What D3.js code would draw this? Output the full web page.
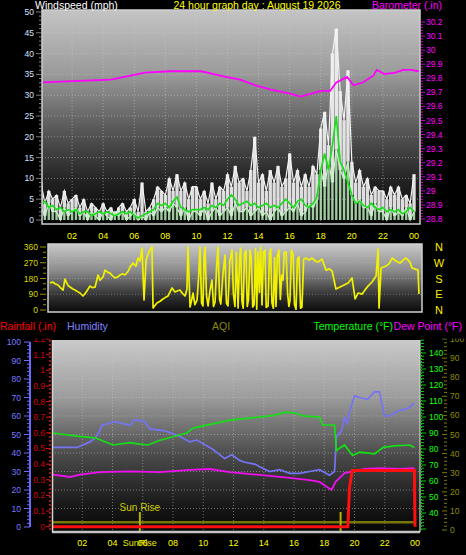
<!DOCTYPE html>
<html><head><meta charset="utf-8">
<script src="https://cdn.jsdelivr.net/npm/d3@7/dist/d3.min.js"></script>
<style>
html,body{margin:0;padding:0;background:#000;overflow:hidden}
svg{display:block}
text{font-family:"Liberation Sans",Arial,sans-serif}
</style></head><body>
<svg id="chart" width="466" height="555"></svg>
<script>
// ================= DATA =================
const chartTitle = "24 hour graph day : August 19 2026";
const hourLabels = ["02","04","06","08","10","12","14","16","18","20","22","00"];
const hourLabelPos = [2,4,6,8,10,12,14,16,18,20,22,24];

const windTicks = [0,5,10,15,20,25,30,35,40,45,50];
const baroTicks = [28.8,28.9,29.0,29.1,29.2,29.3,29.4,29.5,29.6,29.7,29.8,29.9,30.0,30.1,30.2];
const baroTickLabels = ["28.8","28.9","29","29.1","29.2","29.3","29.4","29.5","29.6","29.7","29.8","29.9","30","30.1","30.2"];

// wind samples every 15 minutes (00:00 .. 24:00)
const windGust = [
 9,4,7,5, 6,3,7,4, 5,6,3,5, 2,4,3,2, 4,2,3,1, 3,4,2,3, 5,2,9,2, 3,5,8,7,
 6,10,7,11, 7,9,5,8, 8,5,7,4, 9,5,8,7, 11,8,13,9, 10,7,12,20, 9,11,7,12, 9,13,8,10,
 16,9,12,8, 11,8,13,11, 22,26,18,40, 46,31,24,36, 14,9,12,8, 10,6,8,7, 7,5,8,6, 8,5,6,4, 11];
const windSpeed = [
 3,1,4,2, 2,0,3,1, 2,3,1,2, 0,2,1,0, 2,1,0,2, 1,2,0,1, 2,0,1,0, 2,1,3,2,
 3,2,4,3, 1,3,0,2, 2,1,3,0, 2,3,1,2, 3,1,4,2, 2,3,1,2, 3,1,2,0, 2,3,1,2,
 3,2,4,1, 2,4,3,5, 12,8,14,9, 17,12,10,14, 6,4,5,3, 3,1,4,2, 2,0,3,1, 2,1,3,0, 2];
const windAvg = [
 4,4.5,3,3.5, 2.5,3,2,2.5, 2,2.5,1.5,2, 2,1,1.5,2, 1.5,2,1.5,1, 1.5,2,1.5,2, 1,0.5,1,1.5, 2,2.5,4,3.5,
 4,3,4.5,5.5, 3,2.5,2,2.5, 2.5,2.5,3,2.5, 3.5,3,4,3.5, 5,6,5,3.5, 4,4.5,3.5,4, 3,3.5,4,3, 3.5,3,4,5,
 4,3,4.5,5, 3.5,3,4,5.5, 12,16,12,18, 25,14,12,9, 6,4,4.5,3.5, 3,4,3,2.5, 3,2,2.5,2, 2.5,1.5,2,3, 2];
const windHours = d3.range(windGust.length).map(i => i / 4);

const baroHours = [0,4.5,6.7,8.3,10.3,11.9,12.8,13.8,14.8,16.1,16.7,17.7,18.0,18.6,19.0,19.7,20.1,20.7,21.4,21.6,22.1,22.8,23.3,23.8,24.3];
const baroValues = [29.77,29.79,29.84,29.85,29.85,29.81,29.79,29.75,29.72,29.69,29.67,29.70,29.71,29.71,29.77,29.81,29.75,29.77,29.82,29.86,29.83,29.84,29.86,29.86,29.85];

const dirTicks = [0,90,180,270,360];
const compassLabels = ["N","W","S","E","N"];
const compassDeg = [360,270,180,90,0];
const dirHours = [0.13,0.30,0.45,0.64,0.80,0.97,1.09,1.29,1.42,1.60,1.74,1.90,2.06,2.25,2.40,2.51,2.70,2.85,3.03,3.22,3.35,3.54,3.67,3.85,3.99,4.15,4.31,4.50,4.63,4.80,4.95,5.15,5.28,5.47,5.66,5.79,5.92,6.05,6.18,6.31,6.44,6.56,6.69,6.76,7.01,7.21,7.40,7.55,7.72,7.98,8.17,8.35,8.49,8.65,8.82,
 8.94,9.01,9.14,9.25,9.33,9.45,9.59,9.70,9.78,9.88,9.97,10.04,10.10,10.20,10.30,10.42,10.55,10.65,10.75,10.85,10.94,11.04,11.12,11.25,11.39,11.48,11.58,11.70,11.84,11.93,12.03,12.12,12.23,12.33,12.40,12.48,12.56,12.64,12.74,12.82,12.90,13.00,13.08,13.17,13.26,13.35,13.43,13.51,13.60,13.68,13.77,13.86,13.96,14.04,14.16,14.25,14.33,14.41,14.50,14.58,14.67,14.76,14.86,14.95,15.04,15.12,15.20,15.32,15.42,15.50,15.57,15.66,15.77,15.86,15.96,16.05,16.15,16.25,16.34,16.45,16.60,
 16.80,16.99,17.20,17.37,17.63,17.89,18.10,18.28,18.53,18.79,19.05,19.31,19.56,19.76,19.95,20.21,20.40,20.59,20.85,21.11,21.24,21.30,21.43,21.75,21.95,22.14,22.39,22.65,22.85,23.04,23.29,23.42,23.60,23.81,23.87];
const dirDeg = [155,160,150,143,128,114,177,140,131,120,114,105,97,80,95,110,137,128,131,200,170,189,228,215,211,195,183,190,200,207,200,220,245,268,250,297,280,354,57,285,320,343,360,11,40,50,63,72,80,126,103,110,114,95,80,
 120,360,17,60,97,30,57,200,360,40,23,300,360,80,23,110,171,20,46,250,360,60,34,200,314,40,23,280,343,90,20,330,11,300,354,50,10,320,340,20,60,343,300,17,30,350,5,331,100,360,29,330,343,15,23,320,350,40,10,300,20,310,343,60,200,171,330,331,90,20,57,343,320,30,5,290,303,10,17,290,297,
 285,297,280,274,291,228,235,223,120,131,143,154,183,63,97,91,115,137,160,194,349,11,240,251,265,297,280,268,285,297,274,240,235,228,91];

const humTicks = [0,10,20,30,40,50,60,70,80,90,100];
const rainTicks = [0,0.1,0.2,0.3,0.4,0.5,0.6,0.7,0.8,0.9,1,1.1,1.2];
const tempTicks = [40,50,60,70,80,90,100,110,120,130,140];
const aqiTicks = [0,10,20,30,40,50,60,70,80,90,100];

const humHours = [0.07,1.65,2.51,2.84,3.17,3.30,4.16,4.62,5.15,5.48,6.14,6.47,7.46,8.45,9.11,9.57,10.63,11.42,11.88,12.41,12.74,13.40,13.86,14.39,15.05,15.71,16.37,17.03,17.69,18.35,18.68,18.81,19.14,19.34,19.54,19.67,20.00,20.33,20.86,21.32,21.65,21.98,22.31,22.97,23.50,23.96];
const humValues = [43,43,46,48,52,55,57,56,55,58,57,53,52,49,46,47,42,37,39,36,35,34,32,30,31,29,29,30,31,28,30,49,52,59,56,62,71,70,69,73,73,60,60,63,64,67];

const tempHours = [0.07,1.65,2.84,4.03,5.15,5.81,6.34,7.13,8.12,8.91,9.31,9.77,10.76,11.75,12.74,13.73,14.72,15.38,16.04,16.70,17.69,17.89,18.68,18.81,19.01,19.34,19.87,20.33,21.32,21.91,22.64,23.63,23.96];
const tempValues = [90,88,87,82.5,84,83,82.5,85.5,88,90,93,94,96,98,99,100,101,103,102.5,100.5,100,95,95,79,80.5,82.5,76,78,77,81,82,82.5,81];

const dewHours = [0.07,1.19,1.85,3.17,5.15,7.13,9.11,10.43,11.75,13.73,15.71,17.03,17.69,18.48,18.75,19.34,20.66,21.65,22.97,23.96];
const dewValues = [64,62.5,64,65.5,66,65.5,67,67.5,65.5,63.8,62,60.6,59.4,54.4,59.5,65,67.5,68,67.5,68];

const rainHours = [0,19.56,19.67,19.85,23.96,24.0];
const rainValues = [0,0,0.25,0.36,0.36,0];

const aqiHours = [0,24];
const aqiValues = [4,4];

const sunriseHour = 5.81;
const sunsetHour = 19.08;

// ================= DRAW =================
const svg = d3.select("#chart");
const defs = svg.append("defs");
function grad(id, stops){
  const g = defs.append("linearGradient").attr("id",id).attr("x1",0).attr("y1",0).attr("x2",0).attr("y2",1);
  stops.forEach(([o,c]) => g.append("stop").attr("offset",o).attr("stop-color",c));
}
grad("gTop", [[0,"#c4c4c4"],[0.3,"#9a9a9a"],[0.55,"#5a5a5a"],[0.8,"#222"],[1,"#050505"]]);
grad("gDir", [[0,"#c8c8c8"],[0.4,"#8a8a8a"],[0.75,"#333"],[1,"#0a0a0a"]]);
grad("gBot", [[0,"#cacaca"],[0.3,"#9c9c9c"],[0.6,"#4a4a4a"],[0.85,"#1a1a1a"],[1,"#050505"]]);

function clip(id,x,y,w,h){ defs.append("clipPath").attr("id",id).append("rect").attr("x",x).attr("y",y).attr("width",w).attr("height",h); }

// ---------- TOP PANEL ----------
const T = {x0:42, x1:420, y0:10, y1:224};
const xTop = d3.scaleLinear([0,24],[41,414]);
const yWind = d3.scaleLinear([0,50],[220,12]);
const yBaro = d3.scaleLinear([28.8,30.2],[219,22]);
clip("cTop", T.x0, T.y0, T.x1-T.x0, T.y1-T.y0);

svg.append("rect").attr("x",T.x0).attr("y",T.y0).attr("width",T.x1-T.x0).attr("height",T.y1-T.y0).attr("fill","url(#gTop)");
const gTop = svg.append("g").attr("clip-path","url(#cTop)");
// grid
gTop.selectAll(".hg").data(windTicks.slice(1,-1)).join("line")
  .attr("x1",T.x0).attr("x2",T.x1).attr("y1",d=>yWind(d)).attr("y2",d=>yWind(d))
  .attr("stroke","#c8c8c8").attr("stroke-opacity",0.55).attr("stroke-dasharray","1,2");
gTop.selectAll(".vg").data(hourLabelPos.slice(0,-1)).join("line")
  .attr("x1",d=>xTop(d)).attr("x2",d=>xTop(d)).attr("y1",T.y0).attr("y2",T.y1)
  .attr("stroke","#c8c8c8").attr("stroke-opacity",0.55).attr("stroke-dasharray","1,2");

const windIdx = d3.range(windHours.length);
// gust bars (white)
gTop.selectAll(".gb").data(windIdx).join("line")
  .attr("x1",i=>xTop(windHours[i])).attr("x2",i=>xTop(windHours[i]))
  .attr("y1",i=>yWind(windSpeed[i])).attr("y2",i=>yWind(windGust[i]))
  .attr("stroke","#f0f0f0").attr("stroke-width",3.4).attr("stroke-opacity",0.92);
gTop.append("path").datum(windIdx)
  .attr("d", d3.line().x(i=>xTop(windHours[i])).y(i=>yWind(windGust[i])))
  .attr("fill","none").attr("stroke","#f4f4f4").attr("stroke-width",1.2);
// wind speed (pale green)
gTop.selectAll(".sb").data(windIdx).join("line")
  .attr("x1",i=>xTop(windHours[i])).attr("x2",i=>xTop(windHours[i]))
  .attr("y1",yWind(0)).attr("y2",i=>yWind(windSpeed[i]))
  .attr("stroke","#b8ecb8").attr("stroke-width",2.4).attr("stroke-opacity",0.85);
gTop.append("path").datum(windIdx)
  .attr("d", d3.line().x(i=>xTop(windHours[i])).y(i=>yWind(windSpeed[i])))
  .attr("fill","none").attr("stroke","#c4f4c4").attr("stroke-width",1.3);
// average (green)
gTop.append("path").datum(windIdx)
  .attr("d", d3.line().x(i=>xTop(windHours[i])).y(i=>yWind(windAvg[i])))
  .attr("fill","none").attr("stroke","#1edc1e").attr("stroke-width",1.7);
// barometer
gTop.append("path").datum(d3.range(baroHours.length))
  .attr("d", d3.line().x(i=>xTop(baroHours[i])).y(i=>yBaro(baroValues[i])))
  .attr("fill","none").attr("stroke","#ff00ff").attr("stroke-width",1.8);
// border
svg.append("rect").attr("x",T.x0).attr("y",T.y0).attr("width",T.x1-T.x0).attr("height",T.y1-T.y0)
  .attr("fill","none").attr("stroke","#cfcfcf").attr("stroke-width",1.5);

// wind axis (left)
svg.selectAll(".wmt").data(d3.range(0,51,1)).join("line")
  .attr("x1",d=>d%5===0?36:39).attr("x2",41).attr("y1",d=>yWind(d)).attr("y2",d=>yWind(d))
  .attr("stroke","#9a9a9a").attr("stroke-width",0.8);
svg.selectAll(".wl").data(windTicks).join("text")
  .attr("x",34).attr("y",d=>yWind(d)+3).attr("text-anchor","end")
  .attr("font-size",8.5).attr("fill","#d4e2ff").text(d=>d);
// baro axis (right)
svg.selectAll(".bmt").data(d3.range(0,71)).join("line")
  .attr("x1",421).attr("x2",i=>i%5===0?425:423)
  .attr("y1",i=>yBaro(28.8+i*0.02)).attr("y2",i=>yBaro(28.8+i*0.02))
  .attr("stroke","#ff00ff").attr("stroke-width",0.8);
svg.selectAll(".bl").data(baroTicks).join("text")
  .attr("x",426).attr("y",d=>yBaro(d)+3)
  .attr("font-size",8.5).attr("fill","#ff00ff").text((d,i)=>baroTickLabels[i]);
// top x labels
svg.selectAll(".tx").data(hourLabelPos).join("text")
  .attr("x",d=>xTop(d)).attr("y",239).attr("text-anchor","middle")
  .attr("font-size",9).attr("fill","#ffff00").text((d,i)=>hourLabels[i]);
// titles
svg.append("text").attr("x",35).attr("y",9).attr("font-size",10.5).attr("fill","#ffffff").text("Windspeed (mph)");
svg.append("text").attr("x",257).attr("y",9).attr("text-anchor","middle").attr("font-size",10.5).attr("fill","#ffff00").text(chartTitle);
svg.append("text").attr("x",372).attr("y",9).attr("font-size",10.5).attr("fill","#ff00ff").text("Barometer (.in)");

// ---------- DIRECTION PANEL ----------
const D = {x0:48, x1:422, y0:244, y1:312};
const xDir = d3.scaleLinear([0,24],[48,421]);
const yDir = d3.scaleLinear([0,360],[310,247]);
clip("cDir", D.x0, D.y0, D.x1-D.x0, D.y1-D.y0);
svg.append("rect").attr("x",D.x0).attr("y",D.y0).attr("width",D.x1-D.x0).attr("height",D.y1-D.y0).attr("fill","url(#gDir)");
const gDir = svg.append("g").attr("clip-path","url(#cDir)");
gDir.selectAll(".dg").data([90,180,270]).join("line")
  .attr("x1",D.x0).attr("x2",D.x1).attr("y1",d=>yDir(d)).attr("y2",d=>yDir(d))
  .attr("stroke","#c8c8c8").attr("stroke-opacity",0.45).attr("stroke-dasharray","1,2");
gDir.append("path").datum(d3.range(dirHours.length))
  .attr("d", d3.line().x(i=>xDir(dirHours[i])).y(i=>yDir(dirDeg[i])))
  .attr("fill","none").attr("stroke","#f2f200").attr("stroke-width",1.7).attr("stroke-linejoin","round");
svg.append("rect").attr("x",D.x0).attr("y",D.y0).attr("width",D.x1-D.x0).attr("height",D.y1-D.y0)
  .attr("fill","none").attr("stroke","#cfcfcf").attr("stroke-width",1.5);
svg.selectAll(".dmt").data(d3.range(0,361,30)).join("line")
  .attr("x1",d=>d%90===0?40:43).attr("x2",46).attr("y1",d=>yDir(d)).attr("y2",d=>yDir(d))
  .attr("stroke","#b8b800").attr("stroke-width",0.8);
svg.selectAll(".dl").data(dirTicks).join("text")
  .attr("x",38).attr("y",d=>yDir(d)+3).attr("text-anchor","end")
  .attr("font-size",8.5).attr("fill","#d8d800").text(d=>d);
svg.selectAll(".cl").data(compassDeg).join("text")
  .attr("x",439).attr("y",d=>yDir(d)+4).attr("text-anchor","middle")
  .attr("font-size",11).attr("fill","#ffee00").text((d,i)=>compassLabels[i]);

// ---------- BOTTOM PANEL ----------
const B = {x0:52, x1:420, y0:340, y1:532};
const xB = d3.scaleLinear([0,24],[52,415]);
const yHum = d3.scaleLinear([0,100],[527,342]);
const yRain = d3.scaleLinear([0,1.2],[526.7,339]);
const yTemp = d3.scaleLinear([40,140],[513,353]);
const yAqi = d3.scaleLinear([0,100],[530,339]);
clip("cBot", B.x0, B.y0, B.x1-B.x0, B.y1-B.y0);
clip("cAx", 0, 338.5, 466, 200);
svg.append("rect").attr("x",B.x0).attr("y",B.y0).attr("width",B.x1-B.x0).attr("height",B.y1-B.y0).attr("fill","url(#gBot)");
const gB = svg.append("g").attr("clip-path","url(#cBot)");
gB.selectAll(".bhg").data(humTicks.slice(1,-1)).join("line")
  .attr("x1",B.x0).attr("x2",B.x1).attr("y1",d=>yHum(d)).attr("y2",d=>yHum(d))
  .attr("stroke","#c8c8c8").attr("stroke-opacity",0.5).attr("stroke-dasharray","1,2");
gB.selectAll(".bvg").data(hourLabelPos.slice(0,-1)).join("line")
  .attr("x1",d=>xB(d)).attr("x2",d=>xB(d)).attr("y1",B.y0).attr("y2",B.y1)
  .attr("stroke","#c8c8c8").attr("stroke-opacity",0.5).attr("stroke-dasharray","1,2");
// AQI band
gB.append("path").datum(d3.range(aqiHours.length))
  .attr("d", d3.line().x(i=>xB(aqiHours[i])).y(i=>yAqi(aqiValues[i])))
  .attr("stroke","#9a9a00").attr("stroke-opacity",0.75).attr("stroke-width",2.5).attr("fill","none");
// sunrise/sunset markers
gB.selectAll(".sun").data([sunriseHour, sunsetHour]).join("line")
  .attr("x1",d=>xB(d)).attr("x2",d=>xB(d)).attr("y1",512).attr("y2",B.y1)
  .attr("stroke","#b4b400").attr("stroke-width",2);
gB.append("text").attr("x",xB(sunriseHour)).attr("y",510.5).attr("text-anchor","middle")
  .attr("font-size",10).attr("fill","#caca00").text("Sun Rise");
// humidity
gB.append("path").datum(d3.range(humHours.length))
  .attr("d", d3.line().x(i=>xB(humHours[i])).y(i=>yHum(humValues[i])))
  .attr("fill","none").attr("stroke","#7474f4").attr("stroke-width",1.7);
// temperature
gB.append("path").datum(d3.range(tempHours.length))
  .attr("d", d3.line().x(i=>xB(tempHours[i])).y(i=>yTemp(tempValues[i])))
  .attr("fill","none").attr("stroke","#14e014").attr("stroke-width",1.7);
// dew point
gB.append("path").datum(d3.range(dewHours.length))
  .attr("d", d3.line().x(i=>xB(dewHours[i])).y(i=>yTemp(dewValues[i])))
  .attr("fill","none").attr("stroke","#ee10ee").attr("stroke-width",1.8);
// rainfall
gB.append("path").datum(d3.range(rainHours.length))
  .attr("d", d3.line().x(i=>xB(rainHours[i])).y(i=>yRain(rainValues[i])))
  .attr("fill","none").attr("stroke","#ff1010").attr("stroke-width",3);
// border
svg.append("line").attr("x1",B.x0).attr("x2",B.x1).attr("y1",B.y1).attr("y2",B.y1).attr("stroke","#c4c4c4").attr("stroke-width",2.5);
svg.append("line").attr("x1",B.x0+0.5).attr("x2",B.x0+0.5).attr("y1",B.y0).attr("y2",B.y1).attr("stroke","#d4d4d4").attr("stroke-width",1.5);
svg.append("line").attr("x1",B.x1).attr("x2",B.x1).attr("y1",B.y0).attr("y2",B.y1).attr("stroke","#d4d4d4").attr("stroke-width",1.2);

const gAx = svg.append("g").attr("clip-path","url(#cAx)");
// humidity axis
gAx.append("line").attr("x1",30).attr("x2",30).attr("y1",yHum(100)).attr("y2",yHum(0)).attr("stroke","#6a6aff").attr("stroke-width",2);
gAx.selectAll(".hmt").data(d3.range(0,101,2)).join("line")
  .attr("x1",d=>d%10===0?24:27).attr("x2",30).attr("y1",d=>yHum(d)).attr("y2",d=>yHum(d))
  .attr("stroke","#6a6aff").attr("stroke-width",1);
gAx.selectAll(".hl").data(humTicks).join("text")
  .attr("x",21).attr("y",d=>yHum(d)+3).attr("text-anchor","end")
  .attr("font-size",8.5).attr("fill","#7a7aff").text(d=>d);
// rain axis
gAx.append("line").attr("x1",50).attr("x2",50).attr("y1",B.y0).attr("y2",B.y1).attr("stroke","#e01010").attr("stroke-width",1.5).attr("stroke-dasharray","2,2");
gAx.selectAll(".rmt").data(rainTicks).join("line")
  .attr("x1",46).attr("x2",50).attr("y1",d=>yRain(d)).attr("y2",d=>yRain(d))
  .attr("stroke","#e01010").attr("stroke-width",1);
gAx.selectAll(".rl").data(rainTicks).join("text")
  .attr("x",45).attr("y",d=>yRain(d)+3).attr("text-anchor","end")
  .attr("font-size",8.5).attr("fill","#d40000").text(d=>d);
// temperature axis
gAx.append("line").attr("x1",421.5).attr("x2",421.5).attr("y1",B.y0).attr("y2",B.y1).attr("stroke","#00c800").attr("stroke-width",1).attr("stroke-dasharray","1,2");
gAx.selectAll(".tmt").data(d3.range(30,151,2)).join("line")
  .attr("x1",421).attr("x2",d=>d%10===0?426:424).attr("y1",d=>yTemp(d)).attr("y2",d=>yTemp(d))
  .attr("stroke","#00d000").attr("stroke-width",1);
gAx.selectAll(".tl").data(tempTicks).join("text")
  .attr("x",429).attr("y",d=>yTemp(d)+3)
  .attr("font-size",8.5).attr("fill","#10ff10").text(d=>d);
// AQI axis
gAx.selectAll(".amt").data(d3.range(0,101,2)).join("line")
  .attr("x1",d=>d%10===0?442:444).attr("x2",447).attr("y1",d=>yAqi(d)).attr("y2",d=>yAqi(d))
  .attr("stroke","#7a7a00").attr("stroke-width",1);
gAx.selectAll(".al").data(aqiTicks).join("text")
  .attr("x",450).attr("y",d=>yAqi(d)+3)
  .attr("font-size",8.5).attr("fill","#8c8c00").text(d=>d);

// bottom x labels
svg.selectAll(".bx").data(hourLabelPos).join("text")
  .attr("x",d=>xB(d)).attr("y",546).attr("text-anchor","middle")
  .attr("font-size",9).attr("fill","#ffff00").text((d,i)=>hourLabels[i]);
svg.append("text").attr("x",xB(sunriseHour)).attr("y",546).attr("text-anchor","middle")
  .attr("font-size",9).attr("fill","#e8e800").text("SunRise");

// bottom titles
svg.append("text").attr("x",0).attr("y",330).attr("font-size",10.5).attr("fill","#ff0000").text("Rainfall (.in)");
svg.append("text").attr("x",67).attr("y",330).attr("font-size",10.5).attr("fill","#8282ff").text("Humidity");
svg.append("text").attr("x",212).attr("y",330).attr("font-size",10.5).attr("fill","#8a8a00").text("AQI");
svg.append("text").attr("x",393).attr("y",330).attr("text-anchor","end").attr("font-size",10.5).attr("fill","#00ff00").text("Temperature (°F)");
svg.append("text").attr("x",462).attr("y",330).attr("text-anchor","end").attr("font-size",10.5).attr("fill","#ff00ff").text("Dew Point (°F)");
</script>
</body></html>
